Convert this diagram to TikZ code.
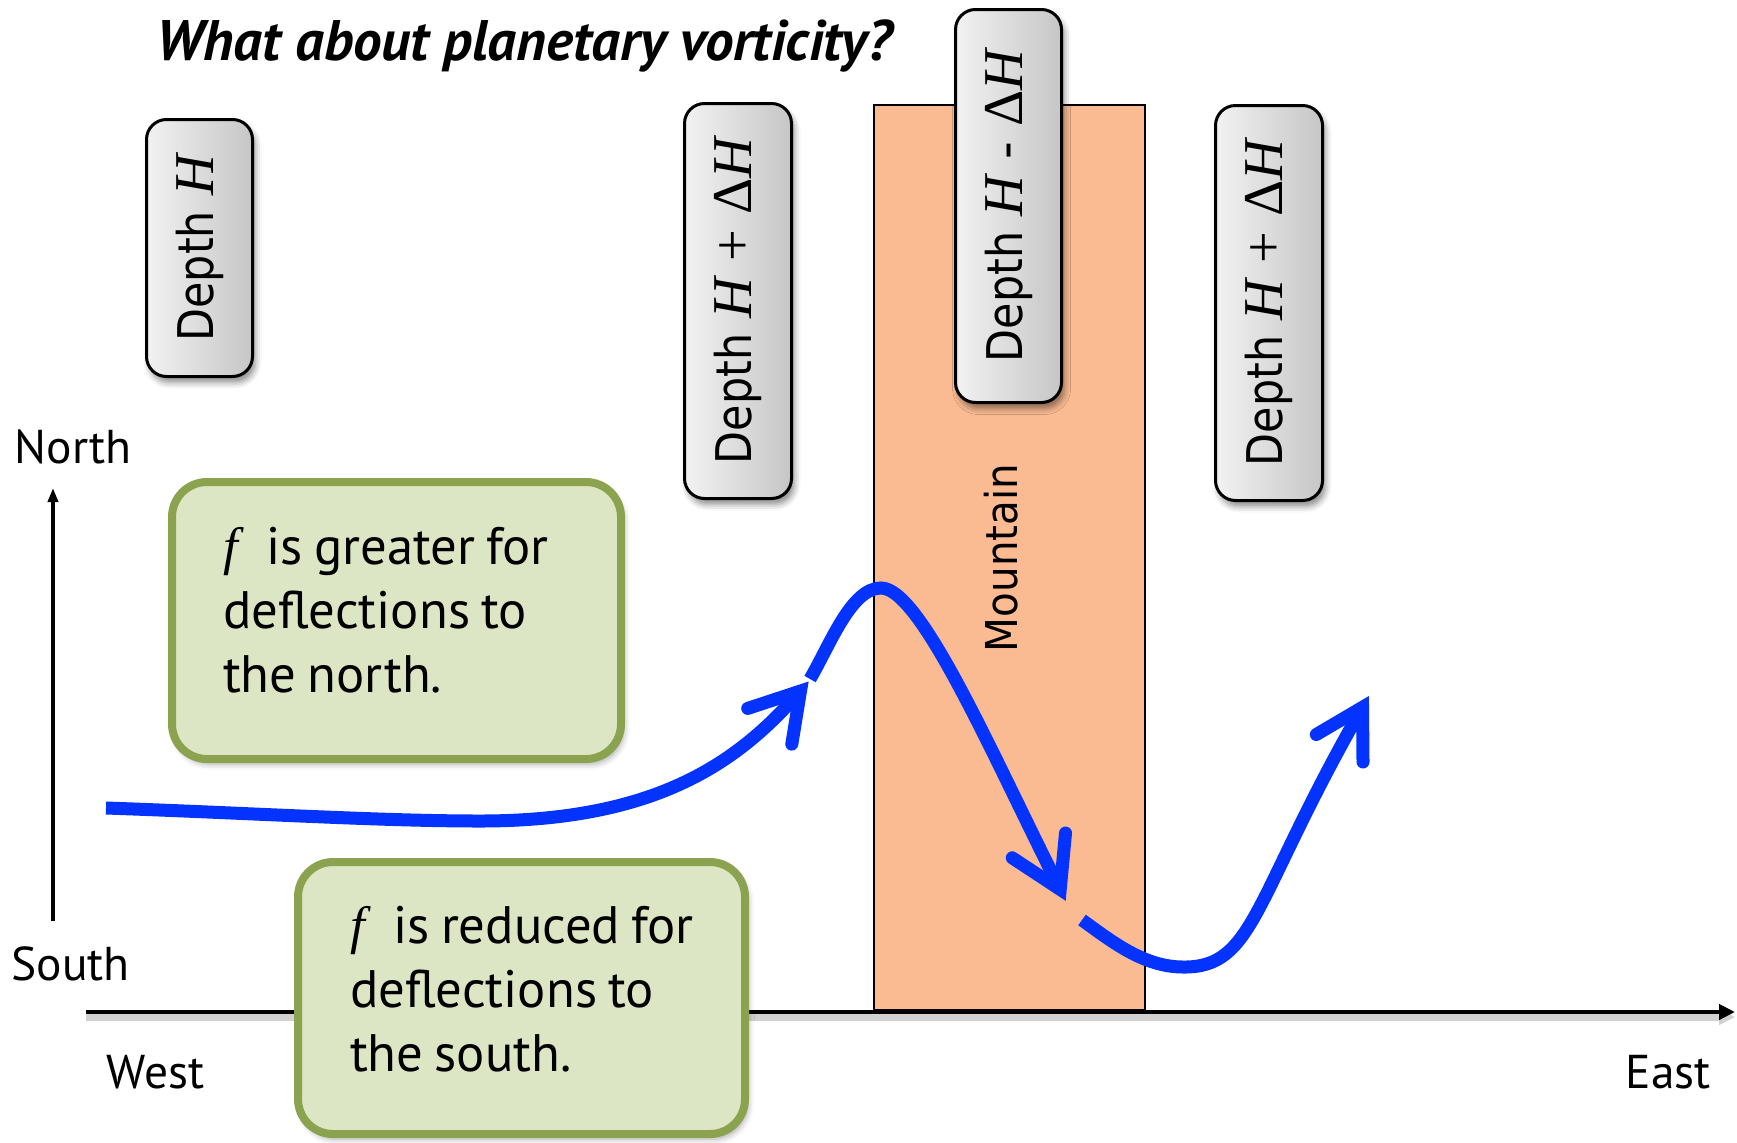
\documentclass[tikz,border=0pt]{standalone}
\usepackage{fontspec}
\usepackage{graphicx}
\usetikzlibrary{arrows.meta,shadows.blur}

\setmainfont{PT Sans}
\newfontfamily\labelfont{PT Sans}
\newfontfamily\boxfont{DejaVu Sans}
\newfontfamily\symfont{Liberation Serif}

\definecolor{flowblue}{HTML}{0433FF}
\definecolor{mountainfill}{HTML}{FABB92}
\definecolor{notefill}{HTML}{DCE6C4}
\definecolor{noteedge}{HTML}{8BA24F}
\definecolor{boxlight}{HTML}{F2F2F2}
\definecolor{boxdark}{HTML}{C6C6C6}

% pieces of the depth labels
\newcommand\depthword{\scalebox{0.87}[1]{Depth}}
\newcommand\Hv{{\symfont\itshape\fontsize{16}{18}\selectfont H}}
\newcommand\dHv{{\symfont\fontsize{16}{18}\selectfont Δ}\Hv}
\newcommand\plusop{{\symfont\fontsize{16}{18}\selectfont +}}
\newcommand\depthlabel[1]{\rotatebox{90}{\boxfont\fontsize{14}{16}\selectfont #1}}
\newcommand\fv{{\symfont\itshape f}}
% narrower word spaces for the note texts
\newskip\noteskip
\newcommand\tightspaces{\noteskip=0.21em plus 0.1em\relax\spaceskip=\noteskip}

\tikzset{
  depthbox/.style={draw=black, line width=0.3mm, rounded corners=2mm,
    left color=boxlight, right color=boxdark, inner sep=0pt,
    blur shadow={shadow xshift=0.3mm, shadow yshift=-0.6mm,
      shadow blur radius=0.6mm, shadow opacity=45}},
  note/.style={draw=noteedge, line width=0.8mm, fill=notefill,
    rounded corners=3.5mm, align=left, inner ysep=0pt,
    font=\labelfont\fontsize{15}{18.2}\selectfont,
    blur shadow={shadow xshift=0.3mm, shadow yshift=-0.5mm,
      shadow blur radius=0.6mm, shadow opacity=35}},
  mountain/.style={draw=black, line width=0.2mm, fill=mountainfill, inner sep=0pt},
  axisline/.style={line width=0.47mm, -{Triangle[length=1.6mm, width=1.5mm]},
    preaction={draw=black!18, line width=0.8mm, transform canvas={yshift=-0.5mm}}},
  northline/.style={line width=0.35mm, -{Triangle[length=1.4mm, width=1.0mm]}},
  flow/.style={draw=flowblue, line width=1.3mm, line cap=butt},
  barb/.style={draw=flowblue, line width=1.3mm, line cap=round, line join=miter},
  compass/.style={font=\labelfont\fontsize{13.5}{16}\selectfont, inner sep=0pt, anchor=base west},
}

\begin{document}
\begin{tikzpicture}[x=0.1mm, y=-0.1mm]
\useasboundingbox (0,0) rectangle (1737,1142);

% heading
\node[anchor=base west, inner sep=0pt] (title) at (156,60)
  {\resizebox{73.5mm}{!}{\labelfont\bfseries\itshape What about planetary vorticity?}};

% the mountain
\node[mountain, minimum width=27.1mm, minimum height=90.5mm] (mtn) at (1009.5,557.5) {};
\node[inner sep=0pt] (mtnlabel) at (1001,558)
  {\rotatebox{90}{\boxfont\fontsize{12.5}{14}\selectfont\scalebox{0.92}[1]{Mountain}}};

% water column depths
\node[depthbox, minimum width=10.6mm, minimum height=25.7mm] (d1) at (199.5,248)
  {\depthlabel{\depthword\ \Hv}};
\node[depthbox, minimum width=10.7mm, minimum height=39.5mm] (d2) at (738,301)
  {\depthlabel{\depthword\ \Hv\ \plusop\ \dHv}};
\node[depthbox, minimum width=10.6mm, minimum height=39.3mm] (d3) at (1008.5,206)
  {\depthlabel{\depthword\ \Hv\ - \dHv}};
\node[depthbox, minimum width=10.7mm, minimum height=39.5mm] (d4) at (1269,303)
  {\depthlabel{\depthword\ \Hv\ \plusop\ \dHv}};

% axes
\coordinate (xstart) at (86,1012);
\coordinate (xend) at (1735,1012);
\coordinate (ystart) at (53,921);
\coordinate (yend) at (53,488);
\draw[axisline] (xstart) -- (xend);
\draw[northline] (ystart) -- (yend);

\node[compass] (north) at (14,463) {North};
\node[compass] (south) at (11,980) {South};
\node[compass] (west) at (106,1088) {West};
\node[compass] (east) at (1625,1088) {East};

% the deflected flow
\coordinate (w0) at (106,808);
\coordinate (w1) at (480,821);
\coordinate (tip1) at (800.5,691);
\coordinate (b1a) at (747.7,708.4);
\coordinate (b1b) at (791.8,744.1);
\draw[flow] (w0) .. controls (250,813) and (380,821) .. (w1)
  .. controls (660,821) and (740,760) .. (tip1);
\draw[barb] (b1a) -- (tip1) -- (b1b);

\coordinate (s2) at (810,679);
\coordinate (peak) at (881,588);
\coordinate (tip2) at (1060.2,889.4);
\coordinate (b2a) at (1012.2,857.8);
\coordinate (b2b) at (1065.5,833);
\draw[flow] (s2) .. controls (830,645) and (851,588) .. (peak)
  .. controls (921,588) and (992.5,755.5) .. (tip2);
\draw[barb] (b2a) -- (tip2) -- (b2b);

\coordinate (s3) at (1082,920);
\coordinate (trough) at (1183,967);
\coordinate (tip3) at (1362.5,707.3);
\coordinate (b3a) at (1316.3,734.5);
\coordinate (b3b) at (1363,762);
\draw[flow] (s3) .. controls (1110,940) and (1143,967) .. (trough)
  .. controls (1255,968) and (1253,898) .. (tip3);
\draw[barb] (b3a) -- (tip3) -- (b3b);

% explanatory notes (each line kept whole)
\node[note, text width=34.7mm, inner xsep=5.1mm, minimum height=27.7mm] (nnote) at (396.5,620.5)
  {\tightspaces\mbox{\fv\hspace{0.55em}is greater for}\\\mbox{deflections to}\\\mbox{the north.}\rule[-2.2mm]{0pt}{0pt}};
\node[note, text width=34.3mm, inner xsep=5.2mm, minimum height=27.2mm] (snote) at (521.5,998)
  {\tightspaces\mbox{\fv\hspace{0.55em}is reduced for}\\\mbox{deflections to}\\\mbox{the south.}\rule[-1.8mm]{0pt}{0pt}};
\end{tikzpicture}
\end{document}
